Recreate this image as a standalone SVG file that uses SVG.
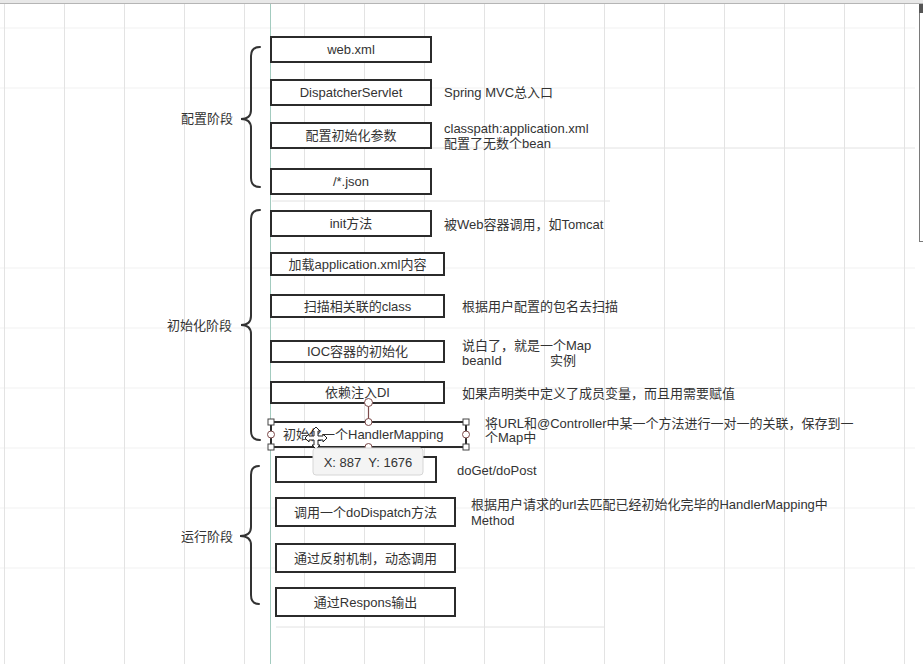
<svg xmlns="http://www.w3.org/2000/svg" width="923" height="664" viewBox="0 0 923 664">
<style>
.bg{fill:#ffffff}
.vg{stroke:#e3e3e3;stroke-width:1}
.hg{stroke:#f1f1f1;stroke-width:1}
.hg2{stroke:#e2e2e2;stroke-width:1}
.box{fill:#ffffff;stroke:#2b2b2b;stroke-width:2}
.t{font-family:"Liberation Sans","Noto Sans CJK SC",sans-serif;font-size:13px;fill:#333333;dominant-baseline:central}
.c{text-anchor:middle}
.e{text-anchor:end}
.brace{fill:none;stroke:#333333;stroke-width:2;stroke-linecap:round}
.hs{fill:#ffffff;stroke:#444444;stroke-width:1}
.hc{fill:#ffffff;stroke:#7d4b4b;stroke-width:1}
</style>
<rect class="bg" x="0" y="0" width="923" height="664"/>
<g id="grid">
<line class="hg" x1="0" y1="28" x2="915" y2="28"/>
<line class="hg" x1="0" y1="88" x2="915" y2="88"/>
<line class="hg" x1="0" y1="268" x2="915" y2="268"/>
<line class="hg" x1="0" y1="328" x2="915" y2="328"/>
<line class="hg" x1="0" y1="388" x2="915" y2="388"/>
<line class="hg" x1="0" y1="448" x2="915" y2="448"/>
<line class="hg" x1="0" y1="508" x2="915" y2="508"/>
<line class="hg" x1="0" y1="568" x2="915" y2="568"/>
<line class="hg2" x1="430" y1="148" x2="915" y2="148"/>
<line class="hg2" x1="272" y1="201" x2="610" y2="201"/>
<line class="hg2" x1="276" y1="627" x2="605" y2="627"/>
<line class="vg" x1="4.5" y1="3" x2="4.5" y2="664"/>
<line class="vg" x1="64.5" y1="3" x2="64.5" y2="664"/>
<line class="vg" x1="124.5" y1="3" x2="124.5" y2="664"/>
<line class="vg" x1="184.5" y1="3" x2="184.5" y2="664"/>
<line class="vg" x1="244.5" y1="3" x2="244.5" y2="664"/>
<line class="vg" x1="304.5" y1="3" x2="304.5" y2="664"/>
<line class="vg" x1="364.5" y1="3" x2="364.5" y2="664"/>
<line class="vg" x1="424.5" y1="3" x2="424.5" y2="664"/>
<line class="vg" x1="484.5" y1="3" x2="484.5" y2="664"/>
<line class="vg" x1="544.5" y1="3" x2="544.5" y2="664"/>
<line class="vg" x1="604.5" y1="3" x2="604.5" y2="664"/>
<line class="vg" x1="664.5" y1="3" x2="664.5" y2="664"/>
<line class="vg" x1="724.5" y1="3" x2="724.5" y2="664"/>
<line class="vg" x1="784.5" y1="3" x2="784.5" y2="664"/>
<line class="vg" x1="844.5" y1="3" x2="844.5" y2="664"/>
<line class="vg" x1="904.5" y1="3" x2="904.5" y2="664"/>
<line x1="270.5" y1="3" x2="270.5" y2="664" stroke="#a3cbbf" stroke-width="1"/>
<rect x="0" y="0" width="923" height="3" fill="#e8e8e8"/>
<line x1="0" y1="3.5" x2="923" y2="3.5" stroke="#b5b5b5" stroke-width="1"/>
<rect x="919.5" y="4.5" width="5" height="237" fill="#ffffff" stroke="#7a7a7a" stroke-width="1"/>
<rect x="919" y="4" width="4" height="9" fill="#555555"/>
</g>
<g id="connectors">
<path class="brace" d="M260,47 Q251,47 251,56 L251,110 Q251,119 241,119 Q251,119 251,128 L251,178 Q251,187 260,187"/>
<path class="brace" d="M260,210 Q251,210 251,219 L251,316 Q251,325 241,325 Q251,325 251,334 L251,431 Q251,440 260,440"/>
<path class="brace" d="M259,466 Q251,466 251,475 L251,527 Q251,536 240,536 Q251,536 251,545 L251,595 Q251,604 259,604"/>
</g>
<g id="stage-config"><text class="t e" x="233" y="118">配置阶段</text></g>
<g id="stage-init"><text class="t e" x="232" y="325">初始化阶段</text></g>
<g id="stage-run"><text class="t e" x="233" y="536">运行阶段</text></g>
<g id="n-webxml"><rect class="box" x="271" y="37" width="160" height="25"/><text class="t c" x="351" y="49.5">web.xml</text></g>
<g id="n-dispatcher"><rect class="box" x="271" y="80" width="160" height="25"/><text class="t c" x="351" y="92.5">DispatcherServlet</text>
<text class="t" x="444" y="92">Spring MVC总入口</text></g>
<g id="n-initparam"><rect class="box" x="271" y="123" width="160" height="25"/><text class="t c" x="351" y="135.5">配置初始化参数</text>
<text class="t" x="444" y="128">classpath:application.xml</text><text class="t" x="444" y="143">配置了无数个bean</text></g>
<g id="n-json"><rect class="box" x="271" y="169" width="160" height="25"/><text class="t c" x="351" y="181.5">/*.json</text></g>
<g id="n-init"><rect class="box" x="271" y="211" width="160" height="25"/><text class="t c" x="351" y="223.5">init方法</text>
<text class="t" x="444" y="224">被Web容器调用，如Tomcat</text></g>
<g id="n-load"><rect class="box" x="271" y="253" width="173" height="22"/><text class="t c" x="357.5" y="264">加载application.xml内容</text></g>
<g id="n-scan"><rect class="box" x="271" y="295" width="173" height="22"/><text class="t c" x="357.5" y="306">扫描相关联的class</text>
<text class="t" x="462" y="306">根据用户配置的包名去扫描</text></g>
<g id="n-ioc"><rect class="box" x="271" y="341" width="173" height="21"/><text class="t c" x="357.5" y="351.5">IOC容器的初始化</text>
<text class="t" x="462" y="345">说白了，就是一个Map</text><text class="t" x="462" y="360.5">beanId</text><text class="t" x="550" y="360.5">实例</text></g>
<g id="n-di"><rect class="box" x="271" y="382" width="173" height="21"/><text class="t c" x="357.5" y="392.5">依赖注入DI</text>
<text class="t" x="462" y="393">如果声明类中定义了成员变量，而且用需要赋值</text></g>
<g id="n-handlermapping"><rect class="box" x="271" y="422" width="195" height="25"/><text class="t" x="283" y="434.5">初始化一个HandlerMapping</text>
<text class="t" x="485" y="423">将URL和@Controller中某一个方法进行一对一的关联，保存到一</text><text class="t" x="485" y="437">个Map中</text></g>
<g id="n-doget"><rect class="box" x="276" y="457" width="160" height="25"/>
<text class="t" x="457" y="470">doGet/doPost</text></g>
<g id="n-dodispatch"><rect class="box" x="276" y="498" width="179" height="28"/><text class="t c" x="365.5" y="512">调用一个doDispatch方法</text>
<text class="t" x="471" y="504">根据用户请求的url去匹配已经初始化完毕的HandlerMapping中</text><text class="t" x="471" y="520">Method</text></g>
<g id="n-reflect"><rect class="box" x="276" y="544" width="179" height="28"/><text class="t c" x="365.5" y="558">通过反射机制，动态调用</text></g>
<g id="n-response"><rect class="box" x="276" y="588" width="179" height="28"/><text class="t c" x="365.5" y="602">通过Respons输出</text></g>
<g id="selection">
<line x1="368.5" y1="402" x2="368.5" y2="422" stroke="#7d4b4b" stroke-width="1.2"/>
<circle class="hc" cx="368.5" cy="402.5" r="4"/>
<rect class="hs" x="268" y="419" width="6" height="6"/>
<rect class="hs" x="463" y="419" width="6" height="6"/>
<rect class="hs" x="268" y="444" width="6" height="6"/>
<rect class="hs" x="463" y="444" width="6" height="6"/>
<circle class="hc" cx="368.5" cy="422" r="3.5"/>
<circle class="hc" cx="368.5" cy="447" r="3.5"/>
<circle class="hc" cx="271" cy="434.5" r="3.5"/>
<circle class="hc" cx="466" cy="434.5" r="3.5"/>
<path d="M316,427 L320,431 L318,431 L318,436 L323,436 L323,434 L327,438 L323,442 L323,440 L318,440 L318,445 L320,445 L316,449 L312,445 L314,445 L314,440 L309,440 L309,442 L305,438 L309,434 L309,436 L314,436 L314,431 L312,431 Z" fill="#ffffff" stroke="#222222" stroke-width="1"/>
</g>
<g id="tooltip">
<rect x="313" y="448" width="110" height="27" rx="3" fill="#f4f4f4" stroke="#d6d6d6" stroke-width="1"/>
<text class="t c" x="368" y="462" fill="#444444" xml:space="preserve">X: 887  Y: 1676</text>
</g>
</svg>
